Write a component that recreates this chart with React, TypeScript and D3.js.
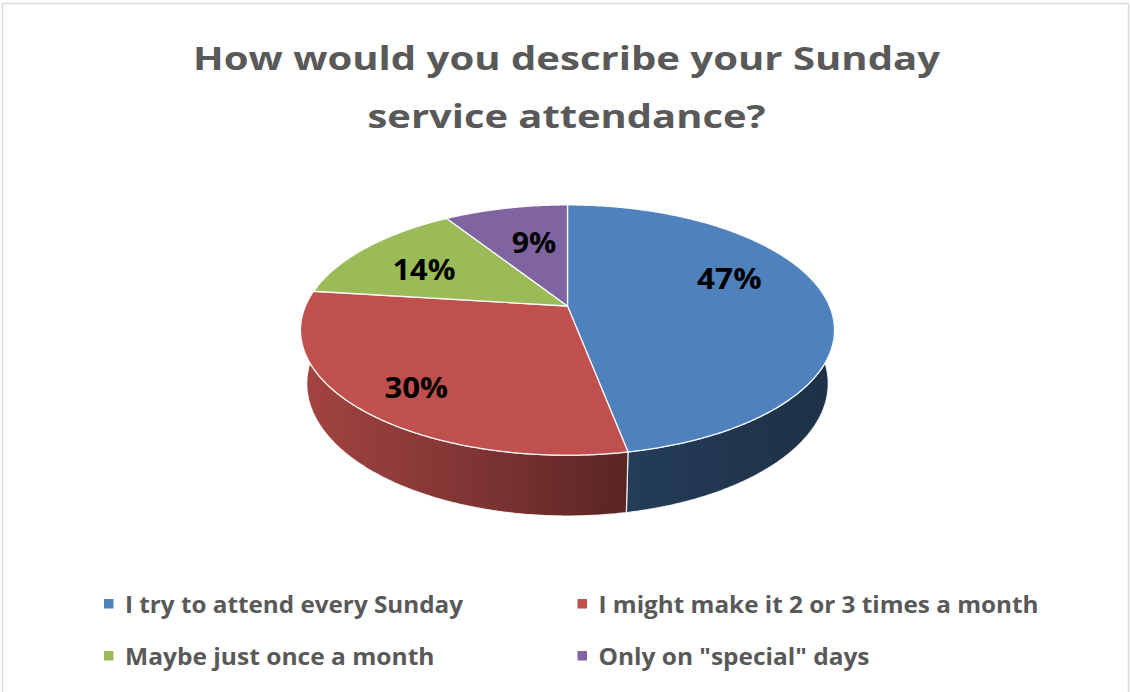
import React from "react";
import * as d3 from "d3";

// ---------- data ----------
const categories = [
  "I try to attend every Sunday",
  "I might make it 2 or 3 times a month",
  "Maybe just once a month",
  'Only on "special" days',
];
const values = [47, 30, 14, 9];
const valueLabels = ["47%", "30%", "14%", "9%"];
const titleLines = ["How would you describe your Sunday", "service attendance?"];

// ---------- styles / layout ----------
const colors = ["#4F81BD", "#C0504D", "#9BBB59", "#8064A2"];
const FONT = "'Open Sans', 'Noto Sans', sans-serif";
const TEXT_GRAY = "#595959";
const W = 1130;
const H = 692;

// 3D projection of a unit-radius cylinder
const CX = 567.5;
const CY = 306;
const K = 262; // pixels per unit radius
const SIN_T = 0.46; // elevation
const COS_T = Math.sqrt(1 - SIN_T * SIN_T);
const DIST = 4.62; // camera distance (in radii)
const DEPTH = 0.232; // pie thickness (in radii)

// label placement (radius fraction, angular nudge in degrees)
const labelRadius = [0.687, 0.788, 0.662, 0.607];
const labelShift = [-14.6, -2.8, -3.8, 2.6];
const labelWidths = [64.5, 63.5, 63, 44.5];
const titleWidths = [747, 398];
const legendWidths = [338, 440, 309.5, 271];
const legendColX = [104, 577.5];
const legendRowY = [604, 656];

function project(a: number, r: number, y: number): [number, number] {
  const X = r * Math.sin(a);
  const Z = -r * Math.cos(a);
  const up = y * COS_T - Z * SIN_T;
  const dc = y * SIN_T + Z * COS_T;
  const s = DIST / (DIST - dc);
  return [CX + K * X * s, CY - K * up * s];
}

function arcPoints(a0: number, a1: number, y: number): [number, number][] {
  const n = Math.max(2, Math.ceil(Math.abs(a1 - a0) / (Math.PI / 360)));
  const pts: [number, number][] = [];
  for (let i = 0; i <= n; i++) {
    pts.push(project(a0 + ((a1 - a0) * i) / n, 1, y));
  }
  return pts;
}

function shade(hex: string, f: number) {
  const c = d3.rgb(hex);
  return d3.rgb(c.r * f, c.g * f, c.b * f).formatHex();
}

export default function App() {
  const pie = d3.pie<number>().sort(null).value((d) => d);
  const arcs = pie(values);
  const line = d3.line();

  // horizontal extent of the pie for wall gradient
  const samples = d3.range(0, 360, 0.5).map((d) => project((d * Math.PI) / 180, 1, 0)[0]);
  const xMin = d3.min(samples) as number;
  const xMax = d3.max(samples) as number;
  const shadeStops: [number, number][] = [
    [0, 0.85],
    [0.375, 0.63],
    [0.6, 0.47],
    [1, 0.37],
  ];

  const frontMin = Math.PI / 2 - 0.35;
  const frontMax = (3 * Math.PI) / 2 + 0.35;

  const walls = arcs
    .map((a, i) => {
      const s = Math.max(a.startAngle, frontMin);
      const e = Math.min(a.endAngle, frontMax);
      if (e <= s) return null;
      const top = arcPoints(s, e, 0);
      const bottom = arcPoints(e, s, -DEPTH);
      return { i, d: (line([...top, ...bottom]) as string) + "Z" };
    })
    .filter(Boolean) as { i: number; d: string }[];

  const tops = arcs.map((a, i) => {
    const pts = [project(0, 0, 0), ...arcPoints(a.startAngle, a.endAngle, 0)];
    return { i, d: (line(pts) as string) + "Z" };
  });

  const labelPos = arcs.map((a, i) => {
    const mid = (a.startAngle + a.endAngle) / 2 + (labelShift[i] * Math.PI) / 180;
    return project(mid, labelRadius[i], 0);
  });

  return (
    <svg
      width={W}
      height={H}
      style={{ position: "absolute", left: 0, top: 0, background: "#fff" }}
      fontFamily={FONT}
    >
      <defs>
        {colors.map((c, i) => (
          <linearGradient
            key={i}
            id={`wall${i}`}
            gradientUnits="userSpaceOnUse"
            x1={xMin}
            x2={xMax}
            y1={0}
            y2={0}
          >
            {shadeStops.map(([o, f], j) => (
              <stop key={j} offset={o} stopColor={shade(c, f)} />
            ))}
          </linearGradient>
        ))}
      </defs>
      <rect x={2.5} y={3.5} width={1126} height={H + 10} fill="#fff" stroke="#d9d9d9" strokeWidth={1.5} />

      {/* title */}
      {titleLines.map((t, i) => (
        <text
          key={i}
          x={566.5}
          y={70 + i * 58}
          textAnchor="middle"
          fontSize={33}
          fontWeight={700}
          fill={TEXT_GRAY}
          textLength={titleWidths[i]}
          lengthAdjust="spacingAndGlyphs"
        >
          {t}
        </text>
      ))}

      {/* pie walls */}
      {walls.map((w) => (
        <path key={`w${w.i}`} d={w.d} fill={`url(#wall${w.i})`} stroke="#ffffff" strokeOpacity={0.85} strokeWidth={1.2} strokeLinejoin="round" />
      ))}
      {/* pie tops */}
      {tops.map((t) => (
        <path key={`t${t.i}`} d={t.d} fill={colors[t.i]} stroke="#ffffff" strokeOpacity={0.9} strokeWidth={1.3} strokeLinejoin="round" />
      ))}

      {/* data labels */}
      {labelPos.map(([x, y], i) => (
        <text
          key={i}
          x={x}
          y={y}
          dy="0.36em"
          textAnchor="middle"
          fontSize={29}
          fontWeight={700}
          fill="#000"
          textLength={labelWidths[i]}
          lengthAdjust="spacingAndGlyphs"
        >
          {valueLabels[i]}
        </text>
      ))}

      {/* legend */}
      {categories.map((c, i) => {
        const x = legendColX[i % 2];
        const y = legendRowY[Math.floor(i / 2)];
        return (
          <g key={i}>
            <rect x={x} y={y - 5} width={9.5} height={9.5} fill={colors[i]} />
            <text
              x={x + 21}
              y={y + 8.5}
              fontSize={23.5}
              fontWeight={700}
              fill={TEXT_GRAY}
              textLength={legendWidths[i]}
              lengthAdjust="spacingAndGlyphs"
            >
              {c}
            </text>
          </g>
        );
      })}
    </svg>
  );
}
